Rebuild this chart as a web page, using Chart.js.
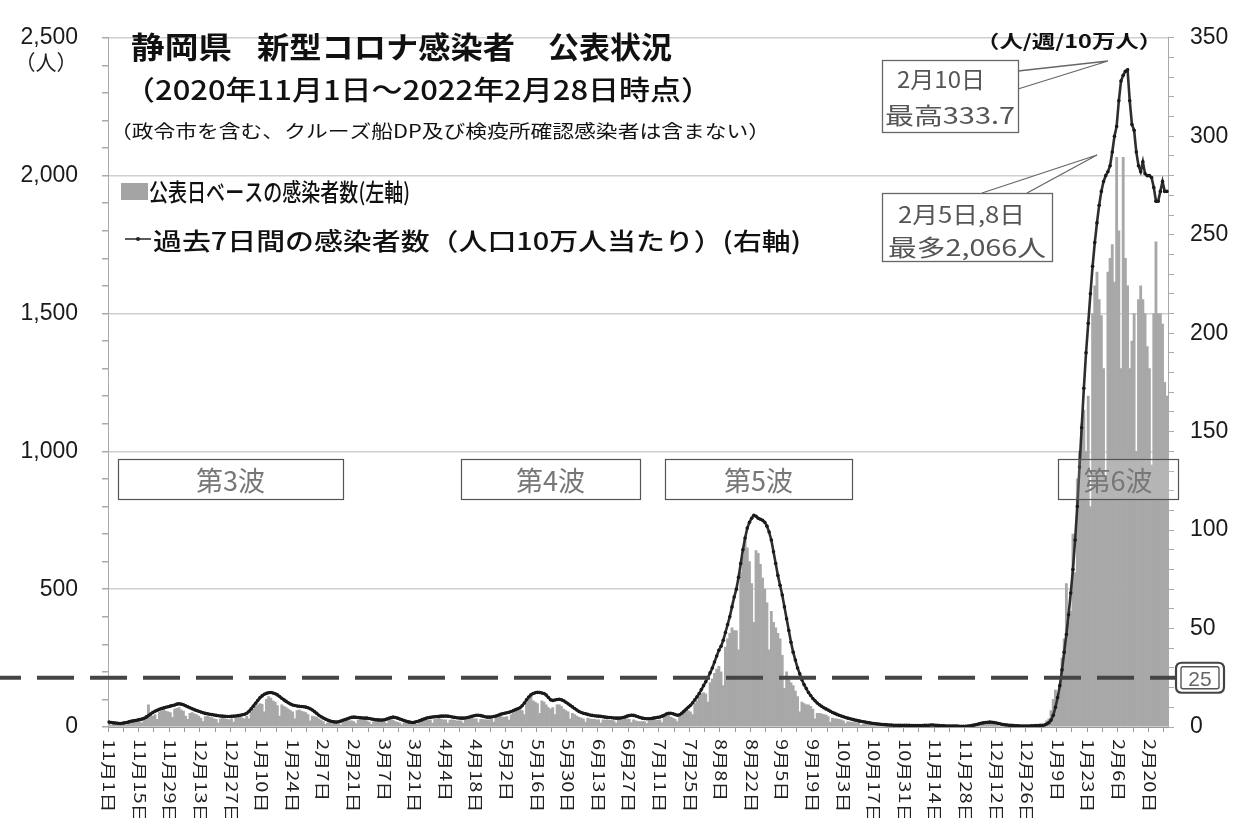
<!DOCTYPE html>
<html><head><meta charset="utf-8">
<script src="https://cdn.jsdelivr.net/npm/chart.js@4.4.1/dist/chart.umd.min.js"></script>
<style>html,body{margin:0;padding:0;background:#fff}#wrap{width:1239px;height:818px;position:relative}canvas{display:block}</style>
</head><body><div id="wrap"><canvas id="c" width="1239" height="818"></canvas></div>
<script>
// ---- categories: daily dates 2020-11-01 .. 2022-02-28 ----
const startDay = new Date(2020, 10, 1);
const dayCount = 485;
const categories = [];
for (let i = 0; i < dayCount; i++) {
  const d = new Date(startDay.getFullYear(), startDay.getMonth(), startDay.getDate() + i);
  categories.push((d.getMonth() + 1) + '月' + d.getDate() + '日');
}
// tick labels (every 14 days)
const tickLabels = ['11月1日','11月15日','11月29日','12月13日','12月27日','1月10日','1月24日','2月7日','2月21日','3月7日','3月21日','4月4日','4月18日','5月2日','5月16日','5月30日','6月13日','6月27日','7月11日','7月25日','8月8日','8月22日','9月5日','9月19日','10月3日','10月17日','10月31日','11月14日','11月28日','12月12日','12月26日','1月9日','1月23日','2月6日','2月20日'];
const tickEvery = 14;

// ---- daily published cases (left axis), one row per week (Sun..Sat) ----
const casesDaily = [
  12,6,10,9,11,8,10,
  14,8,16,17,18,20,19,
  22,15,35,42,80,45,40,
  45,28,55,60,62,58,55,
  52,35,65,68,70,62,58,
  40,28,50,52,48,45,40,
  32,20,38,40,36,34,30,
  28,15,30,32,30,28,26,
  30,18,32,35,38,32,30,
  40,30,55,65,75,80,85,
  82,55,100,110,105,95,90,
  78,40,80,75,70,65,60,
  55,30,60,62,58,55,52,
  45,22,40,38,35,30,25,
  20,10,15,14,12,12,10,
  12,8,25,28,25,22,22,
  20,12,25,28,26,24,22,
  18,10,20,22,20,18,18,
  20,12,28,30,25,20,18,
  15,8,16,14,15,12,12,
  14,10,20,22,25,25,24,
  25,14,28,30,32,28,26,
  26,14,25,26,24,22,22,
  22,14,26,28,30,32,30,
  30,16,28,28,26,26,26,
  28,18,34,38,40,36,36,
  38,25,45,50,55,60,62,
  60,45,90,100,110,95,90,
  85,50,95,90,80,70,65,
  70,45,80,80,75,65,60,
  55,30,50,45,40,35,32,
  30,18,32,30,28,28,26,
  26,14,26,25,26,24,24,
  22,14,24,28,30,32,30,
  28,16,26,22,20,20,20,
  20,12,22,24,25,26,24,
  26,16,35,40,42,36,32,
  28,20,40,48,55,60,60,
  55,45,85,95,110,120,125,
  120,90,160,175,195,210,220,
  200,150,290,320,340,360,350,
  350,280,560,620,680,650,600,
  520,380,640,630,590,540,500,
  450,280,420,380,360,340,320,
  260,140,200,180,160,150,130,
  110,55,90,85,80,80,75,
  65,30,50,50,48,45,43,
  38,18,32,30,30,28,26,
  22,12,20,18,18,16,16,
  14,6,10,10,10,9,9,
  8,4,6,6,6,5,5,
  5,2,5,5,4,4,4,
  4,2,4,4,4,4,3,
  4,2,6,6,6,6,6,
  3,1,3,3,3,2,3,
  2,1,2,2,3,2,2,
  2,2,6,10,12,13,13,
  14,8,14,13,12,10,8,
  6,3,4,5,5,5,4,
  3,1,2,3,3,3,3,
  3,2,4,5,5,5,5,
  6,8,22,30,60,100,134,
  120,150,250,320,520,380,420,
  700,560,900,1000,1100,1150,1000,
  1200,800,1500,1600,1650,1550,1492,
  1300,900,1650,1700,1750,1614,2066,
  1800,1300,2066,1700,1600,1300,1400,
  1500,1000,1550,1600,1550,1500,1380,
  1300,950,1500,1760,1500,1500,1462,
  1250,1200
];

// ---- 7-day cases per 100,000 people (right axis) ----
const rate7d = [
  2.5,2.3,2.1,2.0,1.9,1.8,1.9,
  2.1,2.3,2.6,2.9,3.1,3.3,3.5,
  3.8,4.0,4.4,5.0,5.8,6.6,7.4,
  8.0,8.5,9.0,9.4,9.7,10.0,10.3,
  10.6,10.9,11.2,11.6,11.8,11.6,11.3,
  10.8,10.3,9.8,9.3,8.8,8.4,8.0,
  7.6,7.2,6.9,6.7,6.5,6.3,6.1,
  5.9,5.7,5.6,5.5,5.4,5.3,5.3,
  5.4,5.5,5.6,5.8,6.0,6.2,6.5,
  7.0,8.0,9.2,10.6,12.0,13.4,14.8,
  15.8,16.6,17.1,17.4,17.5,17.3,16.9,
  16.3,15.5,14.6,13.8,13.0,12.3,11.7,
  11.2,10.9,10.7,10.5,10.4,10.3,10.1,
  9.8,9.3,8.6,7.8,6.9,6.0,5.2,
  4.6,4.0,3.5,3.1,2.8,2.6,2.5,
  2.7,3.0,3.4,3.8,4.2,4.6,4.9,
  5.0,4.9,4.8,4.7,4.6,4.5,4.5,
  4.3,4.1,3.9,3.7,3.6,3.5,3.5,
  3.7,4.0,4.4,4.8,5.0,4.8,4.5,
  4.1,3.7,3.3,2.9,2.6,2.4,2.3,
  2.5,2.8,3.2,3.6,4.0,4.4,4.7,
  4.9,5.1,5.2,5.3,5.4,5.5,5.5,
  5.6,5.5,5.3,5.1,4.9,4.7,4.6,
  4.5,4.5,4.6,4.8,5.1,5.4,5.7,
  6.0,6.0,5.8,5.5,5.2,5.0,5.0,
  5.1,5.3,5.6,6.0,6.4,6.7,7.0,
  7.2,7.5,7.9,8.3,8.8,9.3,9.8,
  10.8,12.2,13.8,15.2,16.3,17.0,17.4,
  17.6,17.5,17.3,17.0,16.2,15.0,13.8,
  13.5,13.7,14.0,14.1,13.8,13.3,12.6,
  11.8,11.0,10.2,9.4,8.6,7.9,7.4,
  7.0,6.7,6.4,6.1,5.9,5.7,5.6,
  5.5,5.4,5.2,5.0,4.9,4.8,4.7,
  4.6,4.5,4.5,4.6,4.8,5.1,5.5,
  5.8,6.0,5.9,5.6,5.2,4.8,4.5,
  4.3,4.2,4.2,4.3,4.5,4.7,4.9,
  5.1,5.5,6.0,6.6,7.0,7.0,6.7,
  6.3,6.0,6.2,7.0,8.0,9.0,10.0,
  11.0,12.3,13.8,15.3,17.0,19.0,21.0,
  23.0,25.0,27.5,30.0,33.0,36.0,39.0,
  41.0,44.0,48.0,52.0,56.0,61.0,66.0,
  70.0,76.0,83.0,90.0,96.0,101.0,104.0,
  106.0,107.5,107.0,106.0,105.5,105.0,104.0,
  102.0,99.0,95.0,89.0,83.0,77.0,72.0,
  67.0,61.0,55.0,49.0,43.0,38.0,34.0,
  30.0,27.0,24.0,21.5,19.5,17.5,16.0,
  14.5,13.3,12.2,11.3,10.5,9.8,9.2,
  8.6,8.0,7.4,6.9,6.4,6.0,5.6,
  5.2,4.8,4.5,4.2,3.9,3.6,3.4,
  3.1,2.9,2.7,2.5,2.3,2.1,1.9,
  1.8,1.6,1.5,1.4,1.3,1.2,1.1,
  1.0,1.0,0.9,0.9,0.9,0.8,0.8,
  0.8,0.8,0.8,0.7,0.7,0.7,0.7,
  0.7,0.7,0.8,0.8,0.9,1.0,1.0,
  0.9,0.8,0.7,0.6,0.6,0.5,0.5,
  0.5,0.5,0.5,0.5,0.4,0.4,0.4,
  0.4,0.5,0.6,0.8,1.0,1.3,1.6,
  1.9,2.1,2.3,2.4,2.5,2.4,2.2,
  2.0,1.8,1.5,1.3,1.1,1.0,0.9,
  0.8,0.7,0.6,0.6,0.5,0.5,0.5,
  0.5,0.5,0.6,0.6,0.7,0.7,0.8,
  0.9,1.0,1.5,2.2,3.5,6.0,10.0,
  15,21,29,38,47,57,68,
  80,95,112,132,152,172,190,
  205,220,234,246,256,265,272,
  277,280,282,285,292,300,305,
  318,328,331,333,333.7,318,306,
  303,292,285,282,287,281,280,
  280,279,274,267,267,272,277,
  272,272
];

const threshold = 25;
const leftTicks = [0, 500, 1000, 1500, 2000, 2500];
const rightTicks = [0, 50, 100, 150, 200, 250, 300, 350];

const JP = '"Noto Sans CJK JP", "Noto Sans", sans-serif';
const NUM = '"Liberation Sans", Arial, sans-serif';

function fitText(ctx, text, x, y, w, font, color) {
  ctx.save();
  ctx.font = font; ctx.fillStyle = color; ctx.textAlign = 'left'; ctx.textBaseline = 'alphabetic';
  const m = ctx.measureText(text).width;
  let sx = m > 0 ? w / m : 1;
  sx = Math.max(0.75, Math.min(1.3, sx));
  ctx.translate(x, y); ctx.scale(sx, 1);
  ctx.fillText(text, 0, 0);
  ctx.restore();
}
function centerText(ctx, text, cx, y, font, color) {
  ctx.save(); ctx.font = font; ctx.fillStyle = color; ctx.textAlign = 'center'; ctx.textBaseline = 'alphabetic';
  ctx.fillText(text, cx, y); ctx.restore();
}
function box(ctx, x, y, w, h, stroke, lw, fill) {
  ctx.save();
  if (fill) { ctx.fillStyle = fill; ctx.fillRect(x, y, w, h); }
  ctx.strokeStyle = stroke; ctx.lineWidth = lw; ctx.strokeRect(x + 0.5, y + 0.5, w, h);
  ctx.restore();
}
function roundRect(ctx, x, y, w, h, r) {
  ctx.beginPath();
  ctx.moveTo(x + r, y); ctx.lineTo(x + w - r, y); ctx.quadraticCurveTo(x + w, y, x + w, y + r);
  ctx.lineTo(x + w, y + h - r); ctx.quadraticCurveTo(x + w, y + h, x + w - r, y + h);
  ctx.lineTo(x + r, y + h); ctx.quadraticCurveTo(x, y + h, x, y + h - r);
  ctx.lineTo(x, y + r); ctx.quadraticCurveTo(x, y, x + r, y); ctx.closePath();
}

const decor = {
  id: 'decor',
  afterDatasetsDraw(chart) {
    const ctx = chart.ctx;
    const yR = chart.scales.yR;
    // threshold dashed line
    const ty = yR.getPixelForValue(threshold);
    ctx.save();
    ctx.strokeStyle = '#454545'; ctx.lineWidth = 4; ctx.setLineDash([37, 16]);
    ctx.beginPath(); ctx.moveTo(-16, ty); ctx.lineTo(1177, ty); ctx.stroke();
    ctx.restore();
    // "25" badge
    ctx.save();
    ctx.fillStyle = '#fff';
    roundRect(ctx, 1176, ty - 15, 48, 30, 6); ctx.fill();
    ctx.strokeStyle = '#444'; ctx.lineWidth = 2.2; ctx.stroke();
    roundRect(ctx, 1181, ty - 11, 38, 22, 2); ctx.lineWidth = 1.4; ctx.strokeStyle = '#555'; ctx.stroke();
    ctx.restore();
    centerText(ctx, '25', 1200, ty + 8, '21px ' + NUM, '#666');

    // wave boxes
    const waves = [['第3波', 118, 343], ['第4波', 461, 640], ['第5波', 665, 852], ['第6波', 1058, 1178]];
    waves.forEach(w => {
      box(ctx, w[1], 459, w[2] - w[1], 40, '#555', 1.2, w[0] === '第6波' ? 'rgba(255,255,255,0.15)' : null);
      centerText(ctx, w[0], (w[1] + w[2]) / 2, 491, '27px ' + JP, '#777');
    });

    // callout 1 : peak
    ctx.save();
    ctx.strokeStyle = '#666'; ctx.lineWidth = 1.3;
    ctx.fillStyle = '#fff';
    ctx.beginPath(); ctx.moveTo(1018, 71); ctx.lineTo(1108, 61); ctx.lineTo(1018, 89); ctx.closePath(); ctx.fill();
    ctx.beginPath(); ctx.moveTo(1018, 71); ctx.lineTo(1108, 61); ctx.lineTo(1018, 89); ctx.stroke();
    ctx.fillRect(882, 60, 136, 72);
    ctx.strokeRect(882.5, 60.5, 136, 72);
    // callout 2 : max daily
    ctx.beginPath(); ctx.moveTo(982, 193); ctx.lineTo(1097, 155); ctx.lineTo(1027, 193); ctx.closePath(); ctx.fill();
    ctx.beginPath(); ctx.moveTo(982, 193); ctx.lineTo(1097, 155); ctx.lineTo(1027, 193); ctx.stroke();
    ctx.fillRect(882, 193, 170, 68);
    ctx.strokeRect(882.5, 193.5, 170, 68);
    ctx.restore();
    fitText(ctx, '2月10日', 897, 88, 88, '23px ' + JP, '#555');
    fitText(ctx, '最高333.7', 885, 124, 130, '23px ' + JP, '#555');
    fitText(ctx, '2月5日,8日', 898, 223, 127, '23px ' + JP, '#555');
    fitText(ctx, '最多2,066人', 888, 256, 158, '23px ' + JP, '#555');
  },
  afterDraw(chart) {
    const ctx = chart.ctx;
    const xs = chart.scales.x;
    // x tick labels, rotated 90deg clockwise
    ctx.save();
    ctx.font = '17px ' + JP; ctx.fillStyle = '#222'; ctx.textAlign = 'left'; ctx.textBaseline = 'middle';
    tickLabels.forEach((t, k) => {
      const px = xs.getPixelForValue(k * tickEvery);
      ctx.save(); ctx.translate(px, 739); ctx.rotate(Math.PI / 2); ctx.scale(1.18, 0.9); ctx.fillText(t, 0, 0); ctx.restore();
    });
    ctx.restore();
    // left unit
    centerText(ctx, '（人）', 46, 70, '21px ' + JP, '#222');
    // titles
    fitText(ctx, '静岡県', 131, 58, 101, 'bold 30px ' + JP, '#111');
    fitText(ctx, '新型コロナ感染者', 257, 58, 258, 'bold 30px ' + JP, '#111');
    fitText(ctx, '公表状況', 548, 58, 124, 'bold 30px ' + JP, '#111');
    fitText(ctx, '（2020年11月1日～2022年2月28日時点）', 124, 100, 588, '500 27px ' + JP, '#111');
    fitText(ctx, '（政令市を含む、クルーズ船DP及び検疫所確認感染者は含まない）', 110, 138, 660, '18px ' + JP, '#111');
    fitText(ctx, '（人/週/10万人）', 976, 48, 187, 'bold 18px ' + JP, '#111');
    // legend
    ctx.save();
    ctx.fillStyle = '#a4a4a4'; ctx.fillRect(121, 183, 27, 17);
    ctx.strokeStyle = '#333'; ctx.lineWidth = 1.6;
    ctx.beginPath(); ctx.moveTo(125, 239); ctx.lineTo(151, 239); ctx.stroke();
    ctx.fillStyle = '#222'; ctx.beginPath(); ctx.arc(138, 239, 2, 0, Math.PI * 2); ctx.fill();
    ctx.restore();
    fitText(ctx, '公表日ベースの感染者数(左軸)', 149, 201, 261, '500 24px ' + JP, '#111');
    fitText(ctx, '過去7日間の感染者数（人口10万人当たり）(右軸)', 153, 250, 648, '500 24px ' + JP, '#111');
  }
};

new Chart(document.getElementById('c').getContext('2d'), {
  data: {
    labels: categories,
    datasets: [
      { type: 'line', label: '過去7日間の感染者数（人口10万人当たり）(右軸)', data: rate7d, yAxisID: 'yR',
        borderColor: '#2e2e2e', borderWidth: 2.6, pointRadius: 1.8, pointBackgroundColor: '#1a1a1a',
        pointBorderWidth: 0, tension: 0, order: 0 },
      { type: 'bar', label: '公表日ベースの感染者数(左軸)', data: casesDaily, yAxisID: 'yL',
        backgroundColor: '#a8a8a8', barPercentage: 1, categoryPercentage: 1, borderWidth: 0, order: 1 }
    ]
  },
  options: {
    responsive: false, animation: false,
    layout: { padding: { top: 27, left: 0, right: 0, bottom: 0 } },
    plugins: { legend: { display: false }, tooltip: { enabled: false } },
    scales: {
      x: {
        grid: { drawOnChartArea: false, tickLength: 5, color: c => (c.index % 7 === 0 ? '#999' : 'rgba(0,0,0,0)') },
        ticks: { display: false, autoSkip: false },
        border: { color: '#999', width: 1 },
        afterFit(s) { s.height = 91; }
      },
      yL: {
        position: 'left', min: 0, max: 2500,
        ticks: { stepSize: 100, autoSkip: false, padding: 24, color: '#1a1a1a', font: { family: NUM, size: 23 },
          callback: v => (leftTicks.includes(v) ? v.toLocaleString('en-US') : '') },
        grid: { color: c => (c.tick && c.tick.value % 500 === 0 && c.tick.value > 0 ? '#cfcfcf' : 'rgba(0,0,0,0)'),
          tickColor: '#aaa', tickLength: 6, lineWidth: 1.5 },
        border: { color: '#aaa' },
        afterFit(s) { s.width = 108; }
      },
      yR: {
        position: 'right', min: 0, max: 350,
        ticks: { stepSize: 10, autoSkip: false, padding: 16, color: '#1a1a1a', font: { family: NUM, size: 23 },
          callback: v => (rightTicks.includes(v) ? String(v) : '') },
        grid: { drawOnChartArea: false, tickColor: '#aaa', tickLength: 6 },
        border: { color: '#aaa' },
        afterFit(s) { s.width = 71; }
      }
    }
  },
  plugins: [decor]
});
</script></body></html>
